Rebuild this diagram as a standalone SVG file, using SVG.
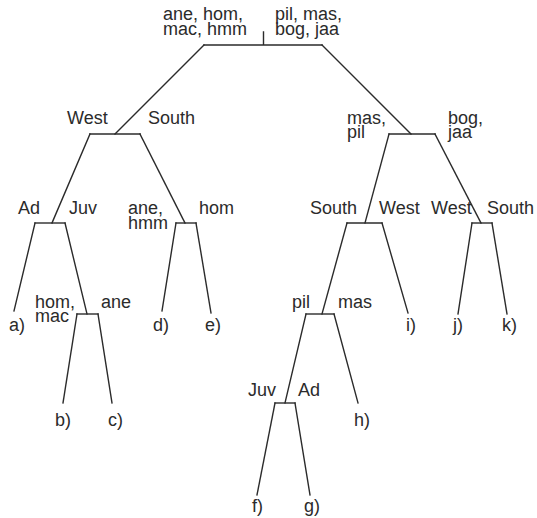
<svg xmlns="http://www.w3.org/2000/svg" width="537" height="518" viewBox="0 0 537 518">
<style>
  .ln { stroke: #2b2b2b; stroke-width: 1.4; fill: none; stroke-linecap: square; }
  text { font-family: "Liberation Sans", Arial, sans-serif; font-size: 18px; fill: #2b2b2b; }
</style>
<rect width="537" height="518" fill="#ffffff"/>
<g id="connectors">
  <path class="ln" d="M204,45 L115,134"/>
  <path class="ln" d="M322,45 L411,134"/>
  <path class="ln" d="M90,134 L52,223"/>
  <path class="ln" d="M140,134 L185,223"/>
  <path class="ln" d="M35,223 L14,311"/>
  <path class="ln" d="M65,223 L87,314"/>
  <path class="ln" d="M77,314 L63,403"/>
  <path class="ln" d="M98,314 L112,403"/>
  <path class="ln" d="M176,223 L162,311"/>
  <path class="ln" d="M196,223 L211,313"/>
  <path class="ln" d="M389,134 L365,223"/>
  <path class="ln" d="M435,134 L481,223"/>
  <path class="ln" d="M347,223 L322,314"/>
  <path class="ln" d="M382,223 L408,313"/>
  <path class="ln" d="M472,223 L458,314"/>
  <path class="ln" d="M492,223 L507,314"/>
  <path class="ln" d="M306,314 L285,403"/>
  <path class="ln" d="M334,314 L358,403"/>
  <path class="ln" d="M275,403 L257,495"/>
  <path class="ln" d="M295,403 L310,495"/>
</g>
<g id="root">
  <path class="ln" d="M263.5,32 L263.5,45 M204,45 L322,45"/>
  <text x="163" y="20">ane, hom,<tspan x="163" dy="15">mac, hmm</tspan></text>
  <text x="275" y="20">pil, mas,<tspan x="275" dy="15">bog, jaa</tspan></text>
</g>
<g id="node-left">
  <path class="ln" d="M90,134 L140,134"/>
  <text x="67" y="124">West</text>
  <text x="148" y="124">South</text>
</g>
<g id="node-right">
  <path class="ln" d="M389,134 L435,134"/>
  <text x="347" y="124">mas,<tspan x="347" dy="14">pil</tspan></text>
  <text x="448" y="124">bog,<tspan x="448" dy="14">jaa</tspan></text>
</g>
<g id="node-west">
  <path class="ln" d="M35,223 L65,223"/>
  <text x="18" y="214">Ad</text>
  <text x="69" y="214">Juv</text>
</g>
<g id="node-south">
  <path class="ln" d="M176,223 L196,223"/>
  <text x="128" y="214">ane,<tspan x="128" dy="15">hmm</tspan></text>
  <text x="199" y="214">hom</text>
</g>
<g id="node-juv">
  <path class="ln" d="M77,314 L98,314"/>
  <text x="35" y="308">hom,<tspan x="35" dy="14">mac</tspan></text>
  <text x="101" y="308">ane</text>
</g>
<g id="node-maspil">
  <path class="ln" d="M347,223 L382,223"/>
  <text x="310" y="214">South</text>
  <text x="379" y="214">West</text>
</g>
<g id="node-bogjaa">
  <path class="ln" d="M472,223 L492,223"/>
  <text x="431" y="214">West</text>
  <text x="487" y="214">South</text>
</g>
<g id="node-south2">
  <path class="ln" d="M306,314 L334,314"/>
  <text x="292" y="308">pil</text>
  <text x="338" y="308">mas</text>
</g>
<g id="node-pil">
  <path class="ln" d="M275,403 L295,403"/>
  <text x="248" y="396">Juv</text>
  <text x="298" y="396">Ad</text>
</g>
<g id="leaf-a"><text x="9" y="331">a)</text></g>
<g id="leaf-b"><text x="55" y="426">b)</text></g>
<g id="leaf-c"><text x="108" y="426">c)</text></g>
<g id="leaf-d"><text x="153" y="331">d)</text></g>
<g id="leaf-e"><text x="205" y="331">e)</text></g>
<g id="leaf-f"><text x="252" y="512">f)</text></g>
<g id="leaf-g"><text x="304" y="512">g)</text></g>
<g id="leaf-h"><text x="354" y="426">h)</text></g>
<g id="leaf-i"><text x="406" y="331">i)</text></g>
<g id="leaf-j"><text x="453" y="331">j)</text></g>
<g id="leaf-k"><text x="502" y="331">k)</text></g>
</svg>
